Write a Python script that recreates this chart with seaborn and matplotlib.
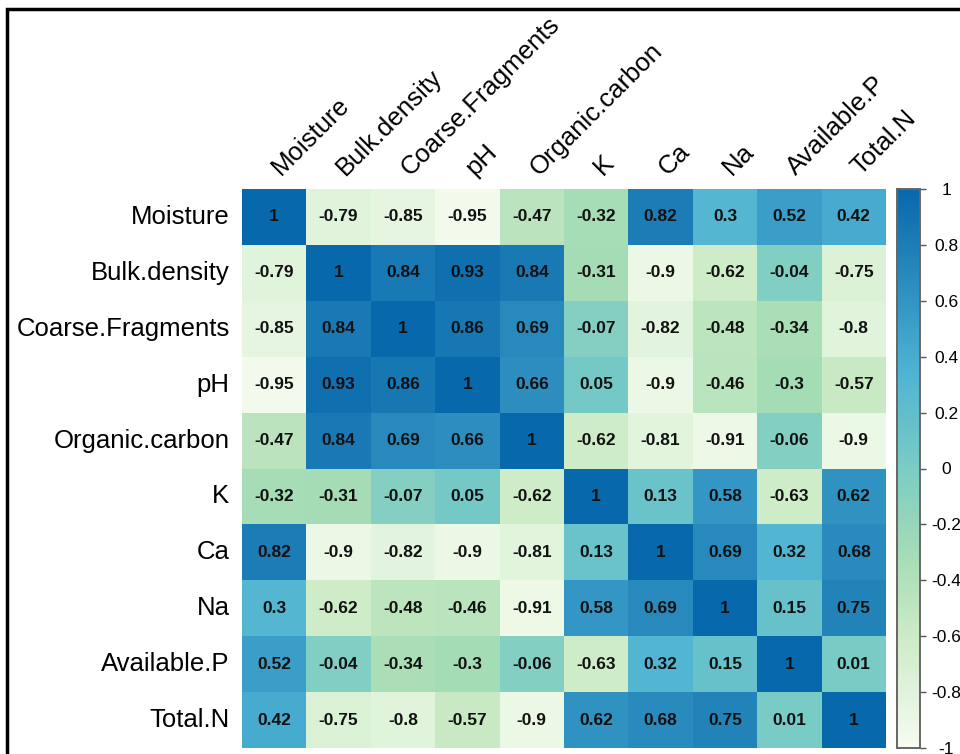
import numpy as np
import matplotlib
matplotlib.use("Agg")
import matplotlib.pyplot as plt
import matplotlib.transforms as mtransforms
from matplotlib.colors import LinearSegmentedColormap
from matplotlib.patches import Rectangle
import seaborn as sns

variables = ["Moisture", "Bulk.density", "Coarse.Fragments", "pH", "Organic.carbon",
             "K", "Ca", "Na", "Available.P", "Total.N"]

moisture = [1, -0.79, -0.85, -0.95, -0.47, -0.32, 0.82, 0.3, 0.52, 0.42]
bulk_density = [-0.79, 1, 0.84, 0.93, 0.84, -0.31, -0.9, -0.62, -0.04, -0.75]
coarse_fragments = [-0.85, 0.84, 1, 0.86, 0.69, -0.07, -0.82, -0.48, -0.34, -0.8]
ph = [-0.95, 0.93, 0.86, 1, 0.66, 0.05, -0.9, -0.46, -0.3, -0.57]
organic_carbon = [-0.47, 0.84, 0.69, 0.66, 1, -0.62, -0.81, -0.91, -0.06, -0.9]
k = [-0.32, -0.31, -0.07, 0.05, -0.62, 1, 0.13, 0.58, -0.63, 0.62]
ca = [0.82, -0.9, -0.82, -0.9, -0.81, 0.13, 1, 0.69, 0.32, 0.68]
na = [0.3, -0.62, -0.48, -0.46, -0.91, 0.58, 0.69, 1, 0.15, 0.75]
available_p = [0.52, -0.04, -0.34, -0.3, -0.06, -0.63, 0.32, 0.15, 1, 0.01]
total_n = [0.42, -0.75, -0.8, -0.57, -0.9, 0.62, 0.68, 0.75, 0.01, 1]

cbar_ticks = [-1, -0.8, -0.6, -0.4, -0.2, 0, 0.2, 0.4, 0.6, 0.8, 1]

corr = np.array([moisture, bulk_density, coarse_fragments, ph, organic_carbon,
                 k, ca, na, available_p, total_n])
annot = np.array([[f"{v:g}" for v in row] for row in corr])

# GnBu-like ramp, light green at -1 to blue at 1
gnbu = [(0.0, "#F7FCF0"), (0.1, "#E0F3DB"), (0.2, "#CCEBC5"), (0.335, "#A8DDB5"),
        (0.5, "#7BCCC4"), (0.675, "#4EB3D3"), (0.835, "#2B8CBE"), (1.0, "#0868AC")]
cmap = LinearSegmentedColormap.from_list("gnbu_corr", gnbu, N=256)

plt.rcParams["font.family"] = ["Liberation Sans", "DejaVu Sans"]

fig = plt.figure(figsize=(9.6, 7.54), dpi=100)
W, H = 960, 754
ax = fig.add_axes([242 / W, 1 - 748 / H, (886 - 242) / W, (748 - 189) / H])
cax = fig.add_axes([897 / W, 1 - 748 / H, (920 - 897) / W, (748 - 189) / H])

sns.heatmap(corr, ax=ax, cbar_ax=cax, cmap=cmap, vmin=-1, vmax=1,
            annot=annot, fmt="", annot_kws={"fontsize": 12.5, "fontweight": "bold", "color": "#111111"},
            xticklabels=variables, yticklabels=variables, square=False)

ax.xaxis.tick_top()
ax.tick_params(axis="both", length=0)
ax.tick_params(axis="y", pad=9, labelsize=18.5)
ax.tick_params(axis="x", pad=9, labelsize=18.5)
plt.setp(ax.get_yticklabels(), rotation=0, ha="right")
shift = mtransforms.ScaledTranslation(7 / 100, 0, fig.dpi_scale_trans)
for lbl in ax.get_xticklabels():
    lbl.set_rotation(45)
    lbl.set_ha("left")
    lbl.set_va("baseline")
    lbl.set_rotation_mode("anchor")
    lbl.set_transform(lbl.get_transform() + shift)

cax.set_yticks(cbar_ticks)
cax.set_yticklabels([f"{t:g}" for t in cbar_ticks])
cax.tick_params(axis="y", length=4, width=1, color="#555555", labelsize=12.5, pad=15)
for lbl in cax.get_yticklabels():
    lbl.set_ha("center")
for spine in cax.spines.values():
    spine.set_visible(True)
    spine.set_color("#666666")
    spine.set_linewidth(1.2)

# black frame around the figure (cropped at right and bottom)
fig.patches.append(Rectangle((7 / W, -0.05), 1.1, 1 - 8.5 / H + 0.05,
                             transform=fig.transFigure, fill=False,
                             edgecolor="black", linewidth=2.5, clip_on=False))

fig.savefig("out.png", dpi=100)
